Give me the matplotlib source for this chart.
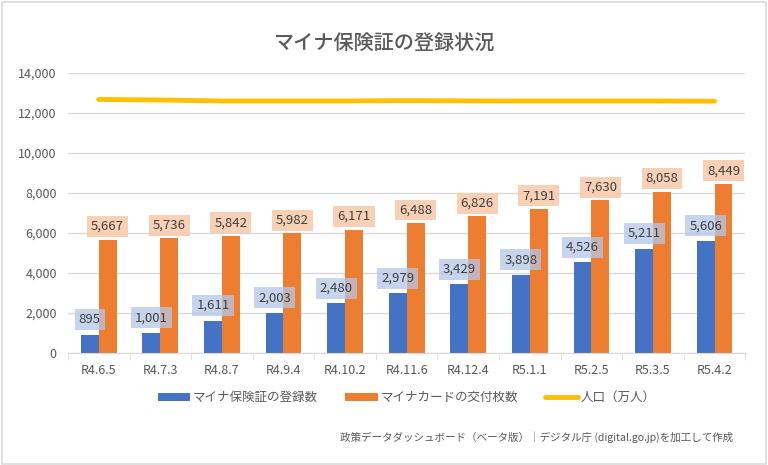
import matplotlib
matplotlib.use('Agg')
import matplotlib.pyplot as plt
import numpy as np

plt.rcParams['font.family'] = ['Noto Sans CJK JP', 'DejaVu Sans']

# data (万件 / 万人)
dates = ['R4.6.5', 'R4.7.3', 'R4.8.7', 'R4.9.4', 'R4.10.2', 'R4.11.6',
         'R4.12.4', 'R5.1.1', 'R5.2.5', 'R5.3.5', 'R5.4.2']
hoken = [895, 1001, 1611, 2003, 2480, 2979, 3429, 3898, 4526, 5211, 5606]
card = [5667, 5736, 5842, 5982, 6171, 6488, 6826, 7191, 7630, 8058, 8449]
jinko = [12680, 12650, 12600, 12600, 12600, 12620, 12605, 12600, 12600, 12600, 12590]

c_blue = '#4472c4'
c_orange = '#ed7d31'
c_yellow = '#ffc000'
c_text = '#595959'

fig = plt.figure(figsize=(7.68, 4.65), dpi=100)
# outer border
fig.patches.append(plt.Rectangle((0.002, 0.003), 0.995, 0.993, transform=fig.transFigure,
                                 fill=False, edgecolor='#d9d9d9', linewidth=1.2))
ax = fig.add_axes([0.0885, 0.241, 0.882, 0.602])

x = np.arange(len(dates))
w = 0.29
b1 = ax.bar(x - w / 2, hoken, w, color=c_blue, label='マイナ保険証の登録数', zorder=2)
b2 = ax.bar(x + w / 2, card, w, color=c_orange, label='マイナカードの交付枚数', zorder=2)
l1, = ax.plot(x, jinko, color=c_yellow, linewidth=3.5, solid_capstyle='round',
              label='人口（万人）', zorder=3)

for xi, v in zip(x, hoken):
    ax.text(xi - w / 2, v + 760, f'{v:,}', ha='center', va='center', fontsize=9.5,
            color='#404040', zorder=5,
            bbox=dict(boxstyle='square,pad=0.3', fc='#b4c7e7', ec='none', alpha=0.75))
for xi, v in zip(x, card):
    ax.text(xi + w / 2, v + 660, f'{v:,}', ha='center', va='center', fontsize=9.5,
            color='#404040', zorder=5,
            bbox=dict(boxstyle='square,pad=0.3', fc='#f8cbad', ec='none', alpha=0.9))

ax.set_xlim(-0.5, len(dates) - 0.5)
ax.set_ylim(0, 14000)
ax.set_yticks(range(0, 14001, 2000))
ax.set_yticklabels([f'{t:,}' for t in range(0, 14001, 2000)])
ax.set_xticks(x)
ax.set_xticklabels(dates)
ax.set_xticks(np.arange(-0.5, len(dates), 1), minor=True)
ax.tick_params(axis='x', which='major', length=0, pad=8, labelsize=9, labelcolor=c_text)
ax.tick_params(axis='x', which='minor', length=5, color='#d9d9d9')
ax.tick_params(axis='y', length=0, pad=8, labelsize=9, labelcolor=c_text)
ax.grid(axis='y', color='#d9d9d9', linewidth=1, zorder=0)
for s in ['left', 'right', 'top']:
    ax.spines[s].set_visible(False)
ax.spines['bottom'].set_color('#d9d9d9')

fig.text(0.5, 0.905, 'マイナ保険証の登録状況', ha='center', va='center',
         fontsize=14.5, fontweight='medium', color=c_text)

ax.legend([b1, b2, l1], ['マイナ保険証の登録数', 'マイナカードの交付枚数', '人口（万人）'],
          loc='center', bbox_to_anchor=(0.5, -0.16), ncol=3, frameon=False,
          fontsize=9, labelcolor=c_text, handlelength=2.6, handleheight=0.6,
          columnspacing=2.2, handletextpad=0.2)

fig.text(0.955, 0.06, '政策データダッシュボード（ベータ版）｜デジタル庁 (digital.go.jp)を加工して作成',
         ha='right', va='center', fontsize=7.6, color=c_text)

fig.savefig('out.png', dpi=100)
